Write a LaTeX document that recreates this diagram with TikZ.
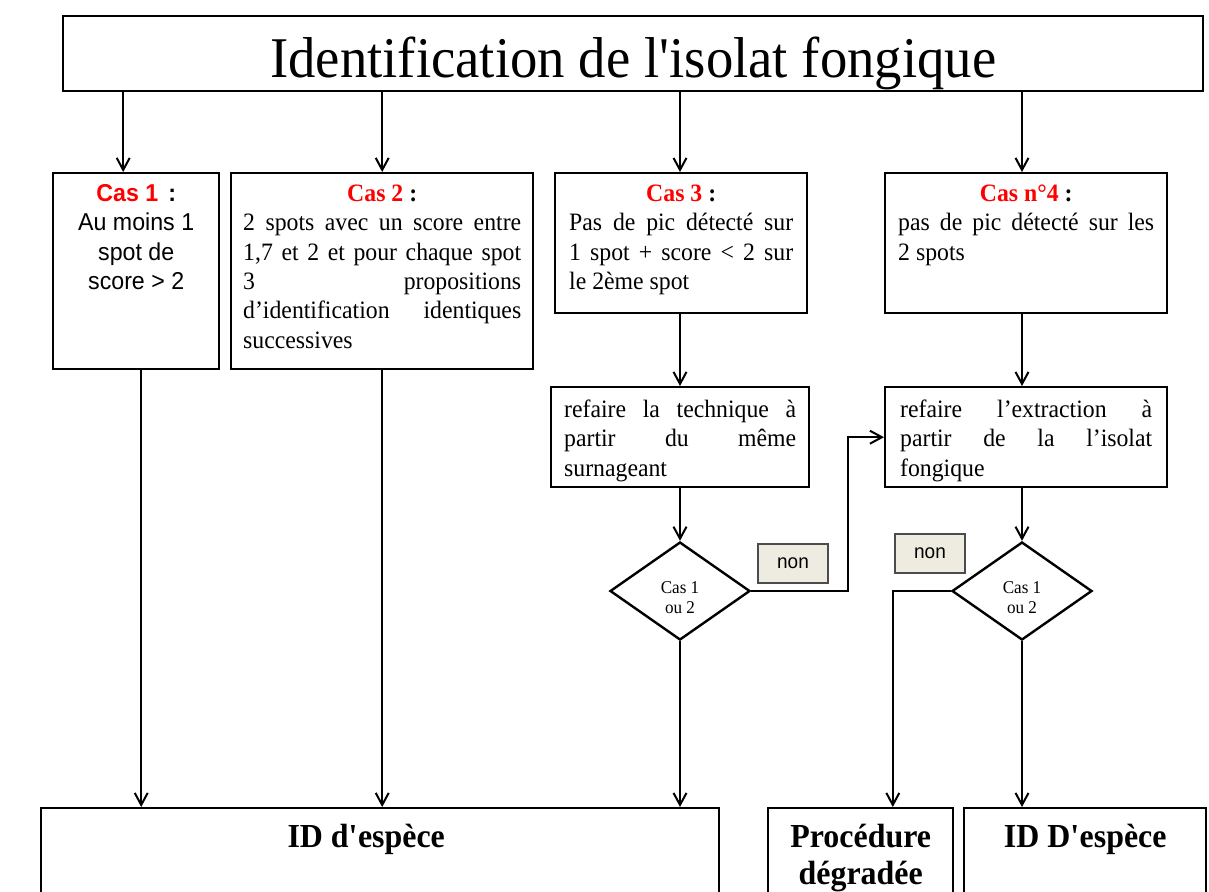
\documentclass[tikz,border=0pt]{standalone}
\usepackage{fontspec}
\setmainfont{Liberation Serif}[FakeStretch=0.95]
\newfontfamily\arialfont{Liberation Sans}[FakeStretch=0.95]
\usetikzlibrary{arrows.meta, shapes.geometric, positioning}
\definecolor{casred}{RGB}{255,0,0}
\definecolor{nonfill}{RGB}{238,236,225}
\newcommand{\bodysize}{\fontsize{12.5}{14.7}\selectfont}
\newcommand{\sanssize}{\fontsize{12.2}{14.7}\selectfont}
\newcommand{\idsize}{\fontsize{16.8}{18.5}\selectfont}
\newcommand{\firstline}[1]{\rule{0pt}{#1}}

\begin{document}
\begin{tikzpicture}[x=0.5pt, y=-0.5pt]
  \useasboundingbox (0,0) rectangle (1209,891);
  \clip (0,0) rectangle (1209,891);

  % --- Styles ---
  \tikzset{
    box/.style={draw, line width=1.2pt, inner sep=0pt, anchor=north west},
    flow/.style={line width=1pt, -{Straight Barb[length=6pt, width=6.5pt]}},
    decision/.style={draw, diamond, line width=1.2pt, inner sep=0pt,
      minimum width=70pt, minimum height=49pt,
      font=\fontsize{9}{9.6}\selectfont},
    answer/.style={draw=black!70, fill=nonfill, line width=0.6pt, inner sep=0pt,
      minimum width=35pt, minimum height=19.5pt,
      font=\arialfont\fontsize{10}{12}\selectfont}
  }

  % --- Title ---
  \node[box, minimum width=570pt, minimum height=37.5pt,
    font=\fontsize{28.8}{32}\selectfont] (title) at (62,15)
    {\raisebox{-12pt}[0pt][0pt]{Identification de l\textquotesingle isolat fongique}};

  % --- The four cases ---
  \node[box, minimum width=83pt, minimum height=98pt] (cas1) at (52,172)
    {\parbox[c][88pt][t]{78pt}{\centering\arialfont\sanssize
      \firstline{9pt}\textbf{\textcolor{casred}{Cas 1}\hspace{5pt}:}\\
      Au moins 1\\ spot de\\ score > 2}};
  \node[box, minimum width=151pt, minimum height=98pt] (cas2) at (230,172)
    {\parbox[c][88pt][t]{139pt}{\bodysize
      {\centering\firstline{9pt}\textbf{\textcolor{casred}{Cas 2} :}\par}
      2 spots avec un score entre\linebreak 1,7 et 2 et pour chaque spot\linebreak
      3 propositions\linebreak d’identification identiques\linebreak successives}};
  \node[box, minimum width=126pt, minimum height=70pt] (cas3) at (554,172)
    {\parbox[c][60pt][t]{112pt}{\bodysize
      {\centering\firstline{9pt}\textbf{\textcolor{casred}{Cas 3} :}\par}
      Pas de pic détecté sur\linebreak 1 spot + score < 2 sur\linebreak le 2ème spot}};
  \node[box, minimum width=141pt, minimum height=70pt] (cas4) at (884,172)
    {\parbox[c][60pt][t]{128pt}{\bodysize
      {\centering\firstline{9pt}\textbf{\textcolor{casred}{Cas n°4} :}\par}
      pas de pic détecté sur les\linebreak 2 spots}};

  % --- Repeat steps ---
  \node[box, minimum width=129pt, minimum height=50pt] (redo1) at (550,386)
    {\parbox[c][38pt][t]{116pt}{\bodysize
      \firstline{9pt}refaire la technique à\linebreak partir du même\linebreak surnageant}};
  \node[box, minimum width=141pt, minimum height=50pt] (redo2) at (884,386)
    {\parbox[c][38pt][t]{126pt}{\bodysize
      \firstline{9pt}refaire l’extraction à\linebreak partir de la l’isolat\linebreak fongique}};

  % --- Decisions ---
  \node[decision] (dec1) at (680,591)
    {\raisebox{-11pt}[0pt][0pt]{\parbox[b]{40pt}{\centering Cas 1\\ou 2}}};
  \node[decision] (dec2) at (1022,591)
    {\raisebox{-11pt}[0pt][0pt]{\parbox[b]{40pt}{\centering Cas 1\\ou 2}}};
  \node[answer] (non1) at (793,563.5) {non};
  \node[answer] (non2) at (930,553.5) {non};

  % --- Results ---
  \node[box, minimum width=339pt, minimum height=60pt] (id1) at (40,807)
    {\parbox[c][45pt][t]{330pt}{\centering\bfseries\idsize
      \hspace*{-14pt}\firstline{12pt}ID d\textquotesingle espèce}};
  \node[box, minimum width=92.5pt, minimum height=60pt] (proc) at (767,807)
    {\parbox[c][45pt][t]{88pt}{\centering\bfseries\idsize
      \firstline{12pt}Procédure\\dégradée}};
  \node[box, minimum width=121pt, minimum height=60pt] (id2) at (963,807)
    {\parbox[c][45pt][t]{115pt}{\centering\bfseries\idsize
      \firstline{12pt}ID D\textquotesingle espèce}};

  % --- Arrows from the title ---
  \coordinate (c1top) at ([xshift=-6.5pt]cas1.north);
  \draw[flow] (c1top |- title.south) -- (c1top);
  \draw[flow] (cas2.north |- title.south) -- (cas2.north);
  \draw[flow] (dec1.north |- title.south) -- (dec1.north |- cas3.north);
  \draw[flow] (dec2.north |- title.south) -- (dec2.north |- cas4.north);

  % --- Arrows down to the results ---
  \coordinate (c1bot) at ([xshift=2.5pt]cas1.south);
  \draw[flow] (c1bot) -- (c1bot |- id1.north);
  \draw[flow] (cas2.south) -- (cas2.south |- id1.north);
  \draw[flow] (dec1.north |- cas3.south) -- (dec1.north |- redo1.north);
  \draw[flow] (dec1.north |- redo1.south) -- (dec1.north);
  \draw[flow] (dec1.south) -- (dec1.south |- id1.north);
  \draw[flow] (dec1.east) -- ++(97,0) |- (redo2.west);
  \draw[flow] (dec2.north |- cas4.south) -- (dec2.north |- redo2.north);
  \draw[flow] (dec2.north |- redo2.south) -- (dec2.north);
  \draw[flow] (dec2.south) -- (dec2.south |- id2.north);
  \draw[flow] (dec2.west) -- ++(-58,0) coordinate (bend) -- (bend |- proc.north);

\end{tikzpicture}
\end{document}
